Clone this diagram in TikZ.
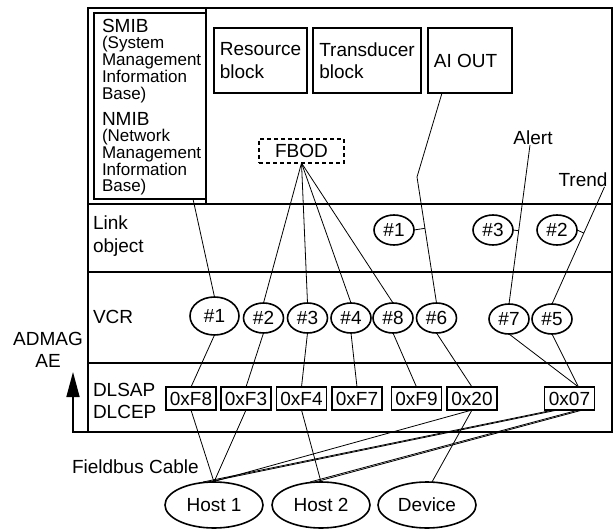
\documentclass[tikz,border=0pt]{standalone}
\usepackage{fontspec}
\setmainfont{Liberation Sans}
\usetikzlibrary{calc,arrows.meta,shapes.geometric}

\begin{document}
\begin{tikzpicture}[x=1pt,y=-1pt,
  every node/.style={inner sep=0pt, outer sep=0pt},
  frameline/.style={line width=1.6pt},
  wire/.style={line width=0.8pt},
  txt/.style={font=\fontsize{19}{23}\selectfont, align=left},
  blockbox/.style={draw, line width=1.6pt, minimum height=65pt,
    font=\fontsize{19}{23}\selectfont, align=left},
  oval/.style={draw, ellipse, line width=1.6pt, minimum width=40pt,
    minimum height=30pt, font=\fontsize{19}{23}\selectfont},
  addr/.style={draw, line width=1.6pt, minimum width=50pt, minimum height=23pt,
    font=\fontsize{19}{23}\selectfont},
  host/.style={draw, ellipse, line width=1.6pt, minimum width=98pt,
    minimum height=46pt, font=\fontsize{19}{23}\selectfont},
]
\useasboundingbox (0,0) rectangle (615,529);

% outer frame and layer dividers
\draw[frameline] (88,8) rectangle (612,432);
\draw[frameline] (88,204) -- (612,204);
\draw[frameline] (88,272) -- (612,272);
\draw[frameline] (88,363) -- (612,363);
\draw[frameline] (206,8) -- (206,204);

% ADMAG AE direction arrow
\draw[frameline, -{Triangle[length=25pt,width=13pt]}] (88,432) -| (73,372);
\node[txt, align=center, anchor=north] (admag) at (48,332) {ADMAG\\[-1pt]AE};

% management information bases
\node[draw, line width=1.6pt, minimum width=112pt, minimum height=186pt] (smib) at (150,106) {};
\node[anchor=north west, align=left, font=\fontsize{17}{16.7}\selectfont] (smibtxt) at (102,19)
  {{\fontsize{19}{19}\selectfont SMIB}\\(System\\Management\\Information\\Base)};
\node[anchor=north west, align=left, font=\fontsize{17}{16.7}\selectfont] (nmibtxt) at (102,112)
  {{\fontsize{19}{19}\selectfont NMIB}\\(Network\\Management\\Information\\Base)};

% function blocks
\node[blockbox, minimum width=93pt] (res) at (260.5,60.5) {Resource\\block};
\node[blockbox, minimum width=108pt] (trd) at (367,60.5) {Transducer\\[-1pt]block};
\node[blockbox, minimum width=84pt] (ai) at (470,60.5) {AI OUT\hspace{9pt}};
\node[draw, line width=1.4pt, dash pattern=on 4pt off 3pt, minimum width=85pt,
  minimum height=24pt, font=\fontsize{19}{23}\selectfont] (fbod) at (301.5,151) {FBOD};
\node[txt] (alert) at (533,138) {Alert};
\node[txt] (trend) at (583,180) {Trend};

% layer labels
\node[txt, anchor=north west] (linklbl) at (93,216) {Link\\object};
\node[txt, anchor=base west] (vcrlbl) at (93,323) {VCR};
\node[txt, anchor=north west] (dllbl) at (93,383) {DLSAP\\[-1pt]DLCEP};
\node[txt, anchor=base west] (cable) at (72,473) {Fieldbus Cable};

% link objects
\node[oval] (l1) at (394,230) {\#1};
\node[oval] (l3) at (493,230) {\#3};
\node[oval] (l2) at (557,230) {\#2};

% VCRs
\node[oval, minimum width=49pt, minimum height=38pt] (v1) at (214.5,316) {\#1};
\node[oval] (v2) at (263.5,318) {\#2};
\node[oval] (v3) at (307.5,318) {\#3};
\node[oval] (v4) at (351,318) {\#4};
\node[oval] (v8) at (393,318) {\#8};
\node[oval] (v6) at (436.5,318) {\#6};
\node[oval] (v7) at (509,319) {\#7};
\node[oval] (v5) at (552,319) {\#5};

% DLSAP / DLCEP addresses
\node[addr] (f8) at (191,398.5) {0xF8};
\node[addr] (f3) at (246,398.5) {0xF3};
\node[addr] (f4) at (301.5,398.5) {0xF4};
\node[addr] (f7) at (357,398.5) {0xF7};
\node[addr] (f9) at (416.5,398.5) {0xF9};
\node[addr] (x20) at (472,398.5) {0x20};
\node[addr] (x07) at (569.5,398.5) {0x07};

% stations on the bus
\node[host] (h1) at (214,505) {Host 1};
\node[host] (h2) at (321,505) {Host 2};
\node[host] (dev) at (427,505) {Device};

% objects to VCRs
\draw[wire] ($(smib.south east)+(-13,0)$) -- (v1.north);
\foreach \t in {v2,v3,v4,v8} \draw[wire] (fbod.south) -- (\t.north);
\coordinate (aibend) at (417,177);
\draw[wire] ([xshift=-28pt]ai.south) -- (aibend) -- (v6.north);
\draw[wire] ([xshift=-3pt]alert.south) -- (v7.north);
\draw[wire] ([xshift=-3pt]trend.south east) -- (v5.north);

% link objects tied to their data lines
\draw[wire] (l1.east) -- ($(aibend)!(l1.east)!(v6.north)$);
\draw[wire] (l3.east) -- ($([xshift=-3pt]alert.south)!(l3.east)!(v7.north)$);
\draw[wire] (l2.east) -- ($([xshift=-3pt]trend.south east)!(l2.east)!(v5.north)$);

% VCRs to addresses
\draw[wire] (v1.south) -- (f8.north);
\draw[wire] (v2.south) -- (f3.north);
\draw[wire] (v3.south) -- (f4.north);
\draw[wire] (v4.south) -- (f7.north);
\draw[wire] (v8.south) -- (f9.north);
\draw[wire] (v6.south) -- (x20.north);
\draw[wire] (v7.south) -- ([xshift=9pt]x07.north);
\draw[wire] (v5.south) -- ([xshift=9pt]x07.north);

% addresses to stations over the fieldbus
\draw[wire] (f8.south) -- (h1.north);
\draw[wire] (f3.south) -- (h1.north);
\draw[wire] (f4.south) -- (h2.north);
\draw[wire] (x20.south) -- ([xshift=5pt]dev.north);
\draw[wire] (x20.south) -- ([xshift=-2pt]h1.north);
\draw[wire] ([xshift=-16pt]x07.south) -- ([xshift=-11pt]h1.north);
\draw[wire] ([xshift=-12pt]x07.south) -- ([xshift=-6pt]h1.north);
\draw[wire] ([xshift=9pt]x07.south) -- ([xshift=-11pt]h2.north);
\draw[wire] ([xshift=13pt]x07.south) -- ([xshift=-6pt]h2.north);
\end{tikzpicture}
\end{document}
